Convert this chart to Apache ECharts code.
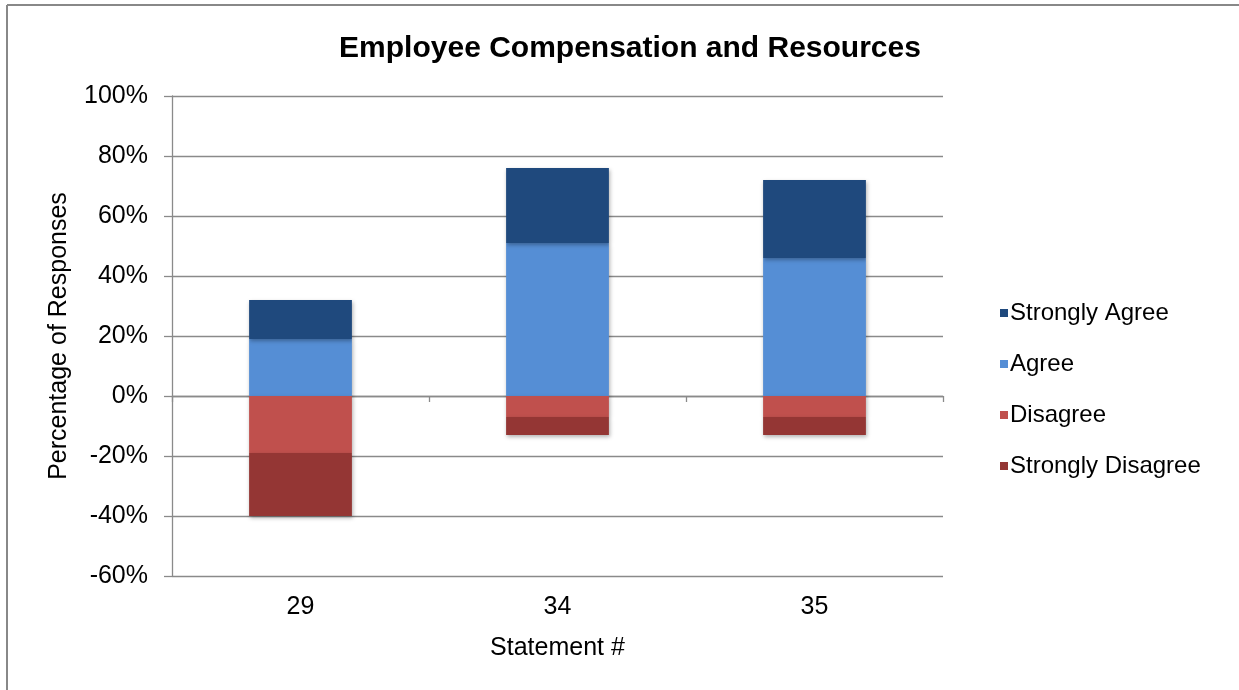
<!DOCTYPE html>
<html><head><meta charset="utf-8">
<script src="https://cdn.jsdelivr.net/npm/echarts@6/dist/echarts.min.js"></script>
<style>html,body{margin:0;padding:0;background:#fff}#c{width:1239px;height:690px}</style>
</head><body><div id="c"></div>
<script>
const categories = ['29', '34', '35'];
const stronglyAgree = [13, 25, 26];
const agree = [19, 51, 46];
const disagree = [-19, -7, -7];
const stronglyDisagree = [-21, -6, -6];
const yTicks = [-60, -40, -20, 0, 20, 40, 60, 80, 100];

const chart = echarts.init(document.getElementById('c'));
const font = 'Liberation Sans, Arial, sans-serif';
const gridColor = '#8a8a8a';
const shadow = {shadowBlur: 4, shadowOffsetX: 1, shadowOffsetY: 2, shadowColor: 'rgba(0,0,0,0.3)'};
function bar(name, data, color) {
  return {name, type: 'bar', stack: 'total', stackStrategy: 'samesign', data, barWidth: '40%', xAxisIndex: 0,
    itemStyle: Object.assign({color}, shadow)};
}
chart.setOption({
  animation: false,
  title: {text: 'Employee Compensation and Resources', left: 625, textAlign: 'center', top: 29,
    textStyle: {fontFamily: font, fontWeight: 'bold', fontSize: 30, color: '#000'}},
  graphic: [
    {type: 'line', shape: {x1: 7, y1: 5, x2: 1239, y2: 5}, style: {stroke: '#888', lineWidth: 2}},
    {type: 'line', shape: {x1: 7, y1: 5, x2: 7, y2: 690}, style: {stroke: '#888', lineWidth: 2}}
  ],
  legend: {orient: 'vertical', left: 995, top: 296, itemWidth: 8, itemHeight: 8, itemGap: 27,
    icon: 'rect', data: ['Strongly Agree', 'Agree', 'Disagree', 'Strongly Disagree'],
    textStyle: {fontFamily: font, fontSize: 24, color: '#000', padding: [0, 0, 0, -3]}},
  grid: {left: 172, right: 296, top: 96, bottom: 114},
  xAxis: [
    {type: 'category', data: categories, position: 'bottom',
     axisLine: {show: false, onZero: false}, axisTick: {show: false},
     axisLabel: {fontFamily: font, fontSize: 25, color: '#000', margin: 19},
     name: 'Statement #', nameLocation: 'middle', nameGap: 60,
     nameTextStyle: {fontFamily: font, fontSize: 25, color: '#000'}},
    {type: 'category', data: categories, position: 'bottom',
     axisLine: {show: true, onZero: true, lineStyle: {color: gridColor, width: 1.3}},
     axisTick: {show: true, inside: false, length: 6, lineStyle: {color: gridColor, width: 1.3}},
     axisLabel: {show: false}}
  ],
  yAxis: {type: 'value', min: -60, max: 100, interval: 20,
    axisLine: {show: true, lineStyle: {color: gridColor, width: 1.3}},
    axisTick: {show: true, length: 8, lineStyle: {color: gridColor, width: 1.3}},
    splitLine: {show: true, lineStyle: {color: gridColor, width: 1.3}},
    axisLabel: {fontFamily: font, fontSize: 25, color: '#000', margin: 24,
      formatter: v => yTicks.includes(v) ? v + '%' : ''},
    name: 'Percentage of Responses', nameLocation: 'middle', nameGap: 100,
    nameTextStyle: {fontFamily: font, fontSize: 25, color: '#000'}},
  series: [
    bar('Agree', agree, '#558ED5'),
    bar('Strongly Agree', stronglyAgree, '#1F497D'),
    bar('Disagree', disagree, '#C0504D'),
    bar('Strongly Disagree', stronglyDisagree, '#943634')
  ]
});
</script></body></html>
